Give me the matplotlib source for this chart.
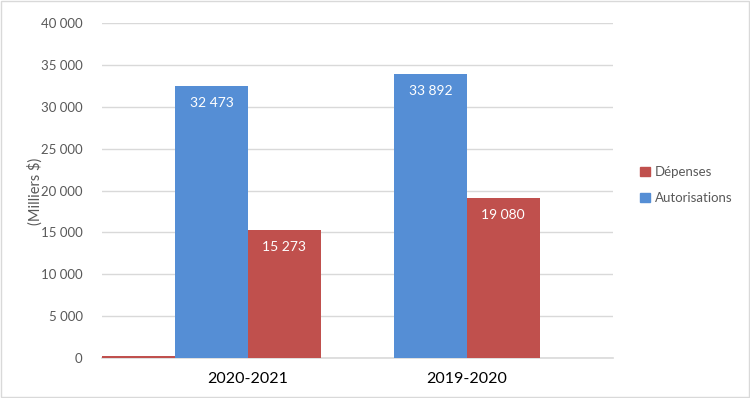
import numpy as np
import matplotlib.pyplot as plt
from matplotlib.ticker import FuncFormatter, MultipleLocator
from matplotlib.patches import Rectangle, Patch

years = ['2020-2021', '2019-2020']
autorisations = [32473, 33892]
depenses = [15273, 19080]
extra = [200, 0]  # small red sliver at the baseline of the first group

blue = '#558ed5'
red = '#c0504d'

plt.rcParams['font.family'] = ['Lato', 'DejaVu Sans']

fig = plt.figure(figsize=(7.5, 3.98), dpi=100)
ax = fig.add_axes([0.136, 0.1005, 0.681, 0.8415])

x = np.arange(len(years))
w = 1 / 3

ax.bar(x - 1.5 * w, extra, width=w, color=red, zorder=3)
b1 = ax.bar(x - 0.5 * w, autorisations, width=w, color=blue, label='Autorisations', zorder=3)
b2 = ax.bar(x + 0.5 * w, depenses, width=w, color=red, label='Dépenses', zorder=3)

fmt = lambda v: '{:,.0f}'.format(v).replace(',', ' ')
for bars, vals in [(b1, autorisations), (b2, depenses)]:
    for r, v in zip(bars, vals):
        ax.text(r.get_x() + r.get_width() / 2, v - 2000, fmt(v), ha='center', va='center',
                color='white', fontsize=10, zorder=4)

ax.set_xlim(-2 / 3, 5 / 3)
ax.set_ylim(0, 40000)
ax.yaxis.set_major_locator(MultipleLocator(5000))
ax.yaxis.set_major_formatter(FuncFormatter(lambda v, p: fmt(v)))
ax.set_xticks(x)
ax.set_xticklabels(years, fontsize=11.5, color='black')
ax.tick_params(axis='y', length=0, labelsize=9.5, labelcolor='#595959', pad=14)
ax.tick_params(axis='x', length=0, pad=10)
ax.grid(axis='y', color='#d9d9d9', linewidth=1, zorder=0)
ax.set_axisbelow(True)
for s in ['top', 'right', 'left']:
    ax.spines[s].set_visible(False)
ax.spines['bottom'].set_color('#d9d9d9')
ax.spines['bottom'].set_linewidth(1.2)
ax.spines['bottom'].set_zorder(2)

fig.text(0.047, 0.52, '(Milliers $)', rotation=90, ha='center', va='center',
         fontsize=10.5, color='#595959')

handles = [Patch(color=red, label='Dépenses'), Patch(color=blue, label='Autorisations')]
fig.legend(handles=handles, loc='center left', bbox_to_anchor=(0.838, 0.535), frameon=False,
           fontsize=9.5, labelcolor='#595959', handlelength=0.7, handleheight=0.7,
           handletextpad=0.4, labelspacing=1.1)

fig.add_artist(Rectangle((0.001, 0.002), 0.997, 0.995, transform=fig.transFigure,
                         fill=False, edgecolor='#d9d9d9', linewidth=1))

fig.savefig('out.png', dpi=100)
